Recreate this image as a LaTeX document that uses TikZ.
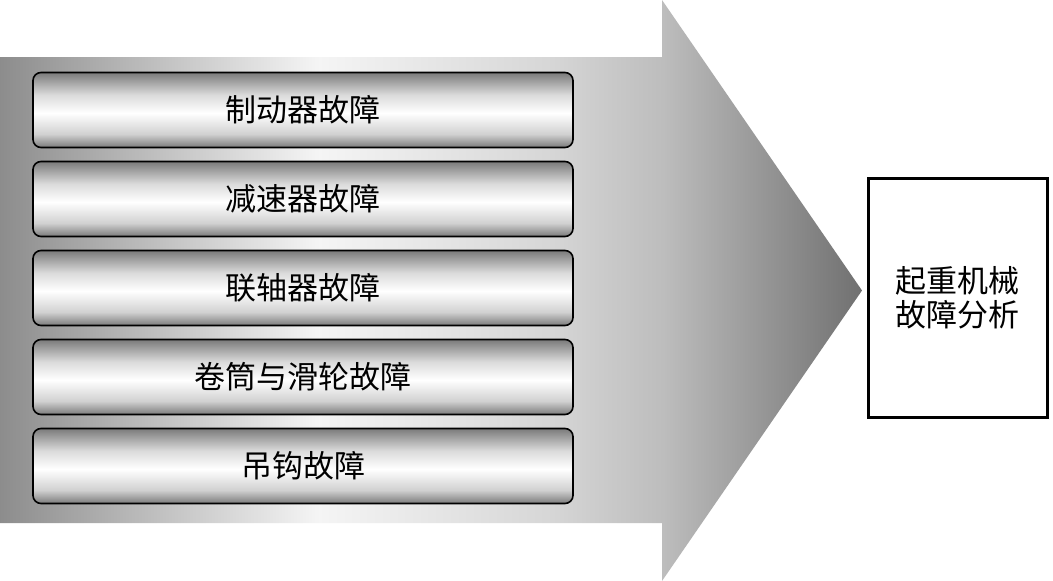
\documentclass[tikz,border=0pt]{standalone}
\usepackage{fontspec}
\newfontfamily\cjk{Noto Sans CJK SC}
\pgfdeclarehorizontalshading{arrowshade}{100bp}{color(0bp)=(black!45); color(25bp)=(black!45); color(43.5bp)=(black!4); color(57bp)=(black!16); color(63.5bp)=(black!26); color(75bp)=(black!56); color(100bp)=(black!56)}
\pgfdeclareverticalshading{boxshade}{100bp}{color(0bp)=(black!52); color(25bp)=(black!52); color(34bp)=(black!18); color(48bp)=(white); color(60bp)=(black!14); color(75bp)=(black!52); color(100bp)=(black!52)}
\tikzset{
  faultbox/.style={draw=black, line width=1.6pt, rounded corners=8pt, shading=boxshade,
    minimum width=540pt, minimum height=75pt, inner sep=0pt,
    font=\cjk\fontsize{31}{34}\selectfont},
  resultbox/.style={draw=black, line width=3pt, fill=white, minimum width=179pt,
    minimum height=239pt, align=center, inner sep=0pt,
    font=\cjk\fontsize{31}{34}\selectfont}
}
\begin{document}
\begin{tikzpicture}[x=1pt,y=-1pt]
\useasboundingbox (0,0) rectangle (1053,581);
\fill[white] (0,0) rectangle (1053,581);
\shade[shading=arrowshade] (0,57) -- (662,57) -- (662,0) -- (862,290.5) -- (662,581) -- (662,523) -- (0,523) -- cycle;
\node[faultbox] (f1) at (303,110) {制动器故障};
\node[faultbox] (f2) at (303,199) {减速器故障};
\node[faultbox] (f3) at (303,288) {联轴器故障};
\node[faultbox] (f4) at (303,377) {卷筒与滑轮故障};
\node[faultbox] (f5) at (303,466) {吊钩故障};
\node[resultbox] (r) at (957.5,297.5) {起重机械\\故障分析};
\end{tikzpicture}
\end{document}
